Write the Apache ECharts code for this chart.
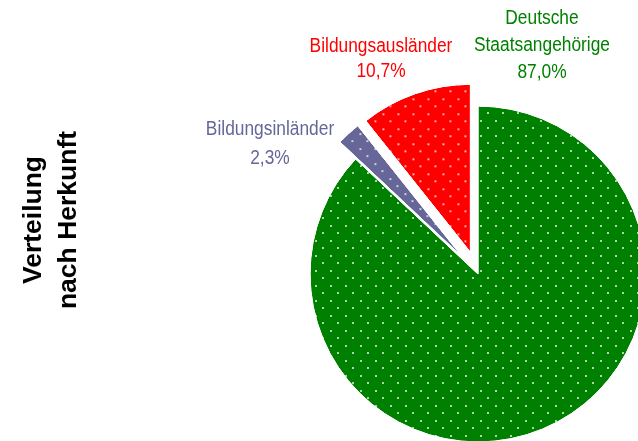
<!DOCTYPE html>
<html>
<head>
<meta charset="utf-8">
<script src="https://cdn.jsdelivr.net/npm/echarts@6/dist/echarts.min.js"></script>
<style>
html, body { margin: 0; padding: 0; background: #fff; }
#main { width: 638px; height: 441px; }
</style>
</head>
<body>
<div id="main"></div>
<script>
// Verteilung nach Herkunft (Anteile in %)
var names = ['Deutsche\nStaatsangehörige', 'Bildungsinländer', 'Bildungsausländer'];
var values = [87.0, 2.3, 10.7];
var colors = ['#008000', '#666699', '#ff0000'];
var exploded = [false, true, true];

// label block centre + line height, per slice
var labelPos = [[542, 45.5, 27], [270, 144.5, 29], [381, 59, 25]];

var dots = {
    symbol: 'circle',
    symbolSize: 1,
    color: 'rgba(255,255,255,0.9)',
    dashArrayX: [[2, 13], [0, 7, 2, 6]],
    dashArrayY: [2, 5, 2, 6]
};

function pct(v) {
    return v.toFixed(1).replace('.', ',') + '%';
}

// labels drawn as narrow text (the original uses a condensed face)
var labels = values.map(function (v, i) {
    var p = labelPos[i];
    return {
        type: 'text',
        x: p[0],
        y: p[1],
        scaleX: 0.89,
        style: {
            text: names[i] + '\n' + pct(v),
            align: 'center',
            verticalAlign: 'middle',
            fontFamily: "'Liberation Sans', Arial, sans-serif",
            fontSize: 19.5,
            lineHeight: p[2],
            fill: colors[i]
        }
    };
});

var chart = echarts.init(document.getElementById('main'));
var option = {
    animation: false,
    graphic: [{
        type: 'text',
        x: 51,
        y: 220,
        rotation: Math.PI / 2,
        style: {
            text: 'Verteilung\nnach Herkunft',
            align: 'center',
            verticalAlign: 'middle',
            fontFamily: "'Liberation Sans', Arial, sans-serif",
            fontWeight: 'bold',
            fontSize: 26.5,
            lineHeight: 35,
            fill: '#000'
        }
    }].concat(labels),
    series: [{
        type: 'pie',
        center: [478, 274],
        radius: 168,
        startAngle: 90,
        clockwise: true,
        selectedMode: 'multiple',
        selectedOffset: 23,
        avoidLabelOverlap: false,
        emphasis: { disabled: true },
        itemStyle: { borderColor: '#fff', borderWidth: 1 },
        label: { show: false },
        labelLine: { show: false },
        data: values.map(function (v, i) {
            return {
                name: names[i],
                value: v,
                selected: exploded[i],
                itemStyle: { color: colors[i], decal: dots }
            };
        })
    }]
};
chart.setOption(option);
</script>
</body>
</html>
